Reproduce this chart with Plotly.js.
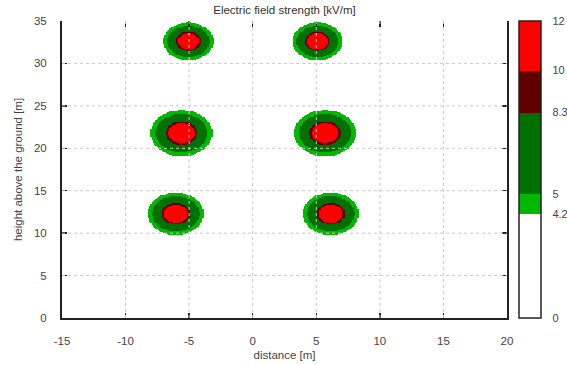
<!DOCTYPE html>
<html>
<head>
<meta charset="utf-8">
<script src="https://cdn.plot.ly/plotly-3.0.1.min.js"></script>
<style>html,body{margin:0;padding:0;background:#fff}#chart{width:567px;height:365px}</style>
</head>
<body>
<div id="chart"></div>
<script>
// Conductor positions (m)
var condX = [-5.05, 5.1, -5.6, 5.7, -6.05, 6.15];
var condY = [32.6, 32.6, 21.8, 21.8, 12.3, 12.3];
// Field strength at 1 m from each conductor (kV/m), from the contour sizes
var condK = [8.3, 8.3, 10.2, 10.2, 9.3, 9.3];
var yStretch = 1.12;

// Colour levels (kV/m) and band colours
var levels = [0, 4.2, 5, 8.3, 10, 12];
var levelLabels = ['0', '4.2', '5', '8.3', '10', '12'];
var bandColors = ['rgba(255,255,255,0)', '#00b800', '#007000', '#600000', '#ff0000'];

var xTicks = [-15, -10, -5, 0, 5, 10, 15, 20];
var xTickText = ['-15', '-10', '-5', '0', '5', '10', '15', '20'];
var yTicks = [0, 5, 10, 15, 20, 25, 30, 35];
var yTickText = ['0', '5', '10', '15', '20', '25', '30', '35'];

// grid
var gx = [], gy = [], z = [];
for (var i = 0; i <= 350; i++) gx.push(-15 + i * 0.1);
for (var j = 0; j <= 350; j++) gy.push(j * 0.1);
for (var j = 0; j < gy.length; j++) {
  var row = [];
  for (var i = 0; i < gx.length; i++) {
    var v = 0;
    for (var c = 0; c < condX.length; c++) {
      var dx = gx[i] - condX[c], dy = (gy[j] - condY[c]) / yStretch;
      var d = Math.sqrt(dx * dx + dy * dy);
      var e = d > 0 ? condK[c] / d : 12;
      if (e > v) v = e;
    }
    row.push(Math.min(v, 12));
  }
  z.push(row);
}

var zmax = levels[levels.length - 1];
var cs = [];
for (var b = 0; b < bandColors.length; b++) {
  cs.push([levels[b] / zmax, bandColors[b]]);
  cs.push([levels[b + 1] / zmax, bandColors[b]]);
}

var heat = {
  type: 'heatmap', x: gx, y: gy, z: z, zmin: 0, zmax: zmax, zsmooth: false,
  colorscale: cs, hoverinfo: 'skip',
  colorbar: {
    x: (519 - 62) / 445, xanchor: 'left', xpad: 0, y: 0.5, yanchor: 'middle',
    len: 1, ypad: 0, thickness: 22, outlinewidth: 1.5, outlinecolor: '#222',
    tickmode: 'array', tickvals: levels, ticktext: levelLabels,
    ticks: 'outside', ticklen: 9, tickcolor: 'rgba(0,0,0,0)',
    tickfont: {family: 'Liberation Sans, Arial, sans-serif', size: 11, color: '#444'}
  }
};
var dummy = {type: 'scatter', x: [], y: [], xaxis: 'x2', yaxis: 'y', showlegend: false, hoverinfo: 'skip'};

var shapes = [];
xTicks.slice(1, -1).forEach(function (t) {
  shapes.push({type: 'line', xref: 'x', yref: 'paper', x0: t, x1: t, y0: 0, y1: 1, layer: 'above',
    line: {color: '#c8c8c8', width: 1, dash: 'dot'}});
});
yTicks.slice(1, -1).forEach(function (t) {
  shapes.push({type: 'line', xref: 'paper', yref: 'y', x0: 0, x1: 1, y0: t, y1: t, layer: 'above',
    line: {color: '#c8c8c8', width: 1, dash: 'dot'}});
});

var fnt = {family: 'Liberation Sans, Arial, sans-serif', size: 11.5, color: '#444'};
var layout = {
  width: 567, height: 365,
  margin: {l: 62, r: 60, t: 21, b: 47, pad: 0, autoexpand: false},
  paper_bgcolor: '#fff', plot_bgcolor: '#fff',
  showlegend: false,
  font: fnt,
  title: {text: 'Electric field strength [kV/m]', x: 0.5, xref: 'paper', xanchor: 'center',
    y: 1, yref: 'container', yanchor: 'top', pad: {t: 6},
    font: {family: 'Liberation Sans, Arial, sans-serif', size: 11.5, color: '#333'}},
  xaxis: {range: [-15, 20], tickmode: 'array', tickvals: xTicks, ticktext: xTickText, showgrid: false, zeroline: false,
    ticks: 'inside', ticklen: 5, tickwidth: 1.5, tickcolor: '#222',
    showline: true, linecolor: '#222', linewidth: 2, mirror: false,
    ticklabelstandoff: 11, tickfont: fnt,
    title: {text: 'distance [m]', standoff: 5, font: fnt}},
  xaxis2: {overlaying: 'x', matches: 'x', side: 'top', range: [-15, 20], tickmode: 'array', tickvals: xTicks,
    showticklabels: false, ticks: 'inside', ticklen: 6, tickwidth: 1.5, tickcolor: '#222',
    showline: false, showgrid: false, zeroline: false},
  yaxis: {range: [0, 35], tickmode: 'array', tickvals: yTicks, ticktext: yTickText, showgrid: false, zeroline: false,
    ticks: 'inside', ticklen: 5, tickwidth: 1.5, tickcolor: '#222',
    showline: true, linecolor: '#222', linewidth: 2, mirror: 'ticks',
    ticklabelstandoff: 11, tickfont: fnt,
    title: {text: 'height above the ground [m]', standoff: 9, font: fnt}},
  shapes: shapes
};
Plotly.newPlot('chart', [heat, dummy], layout, {displayModeBar: false, staticPlot: true});
</script>
</body>
</html>
